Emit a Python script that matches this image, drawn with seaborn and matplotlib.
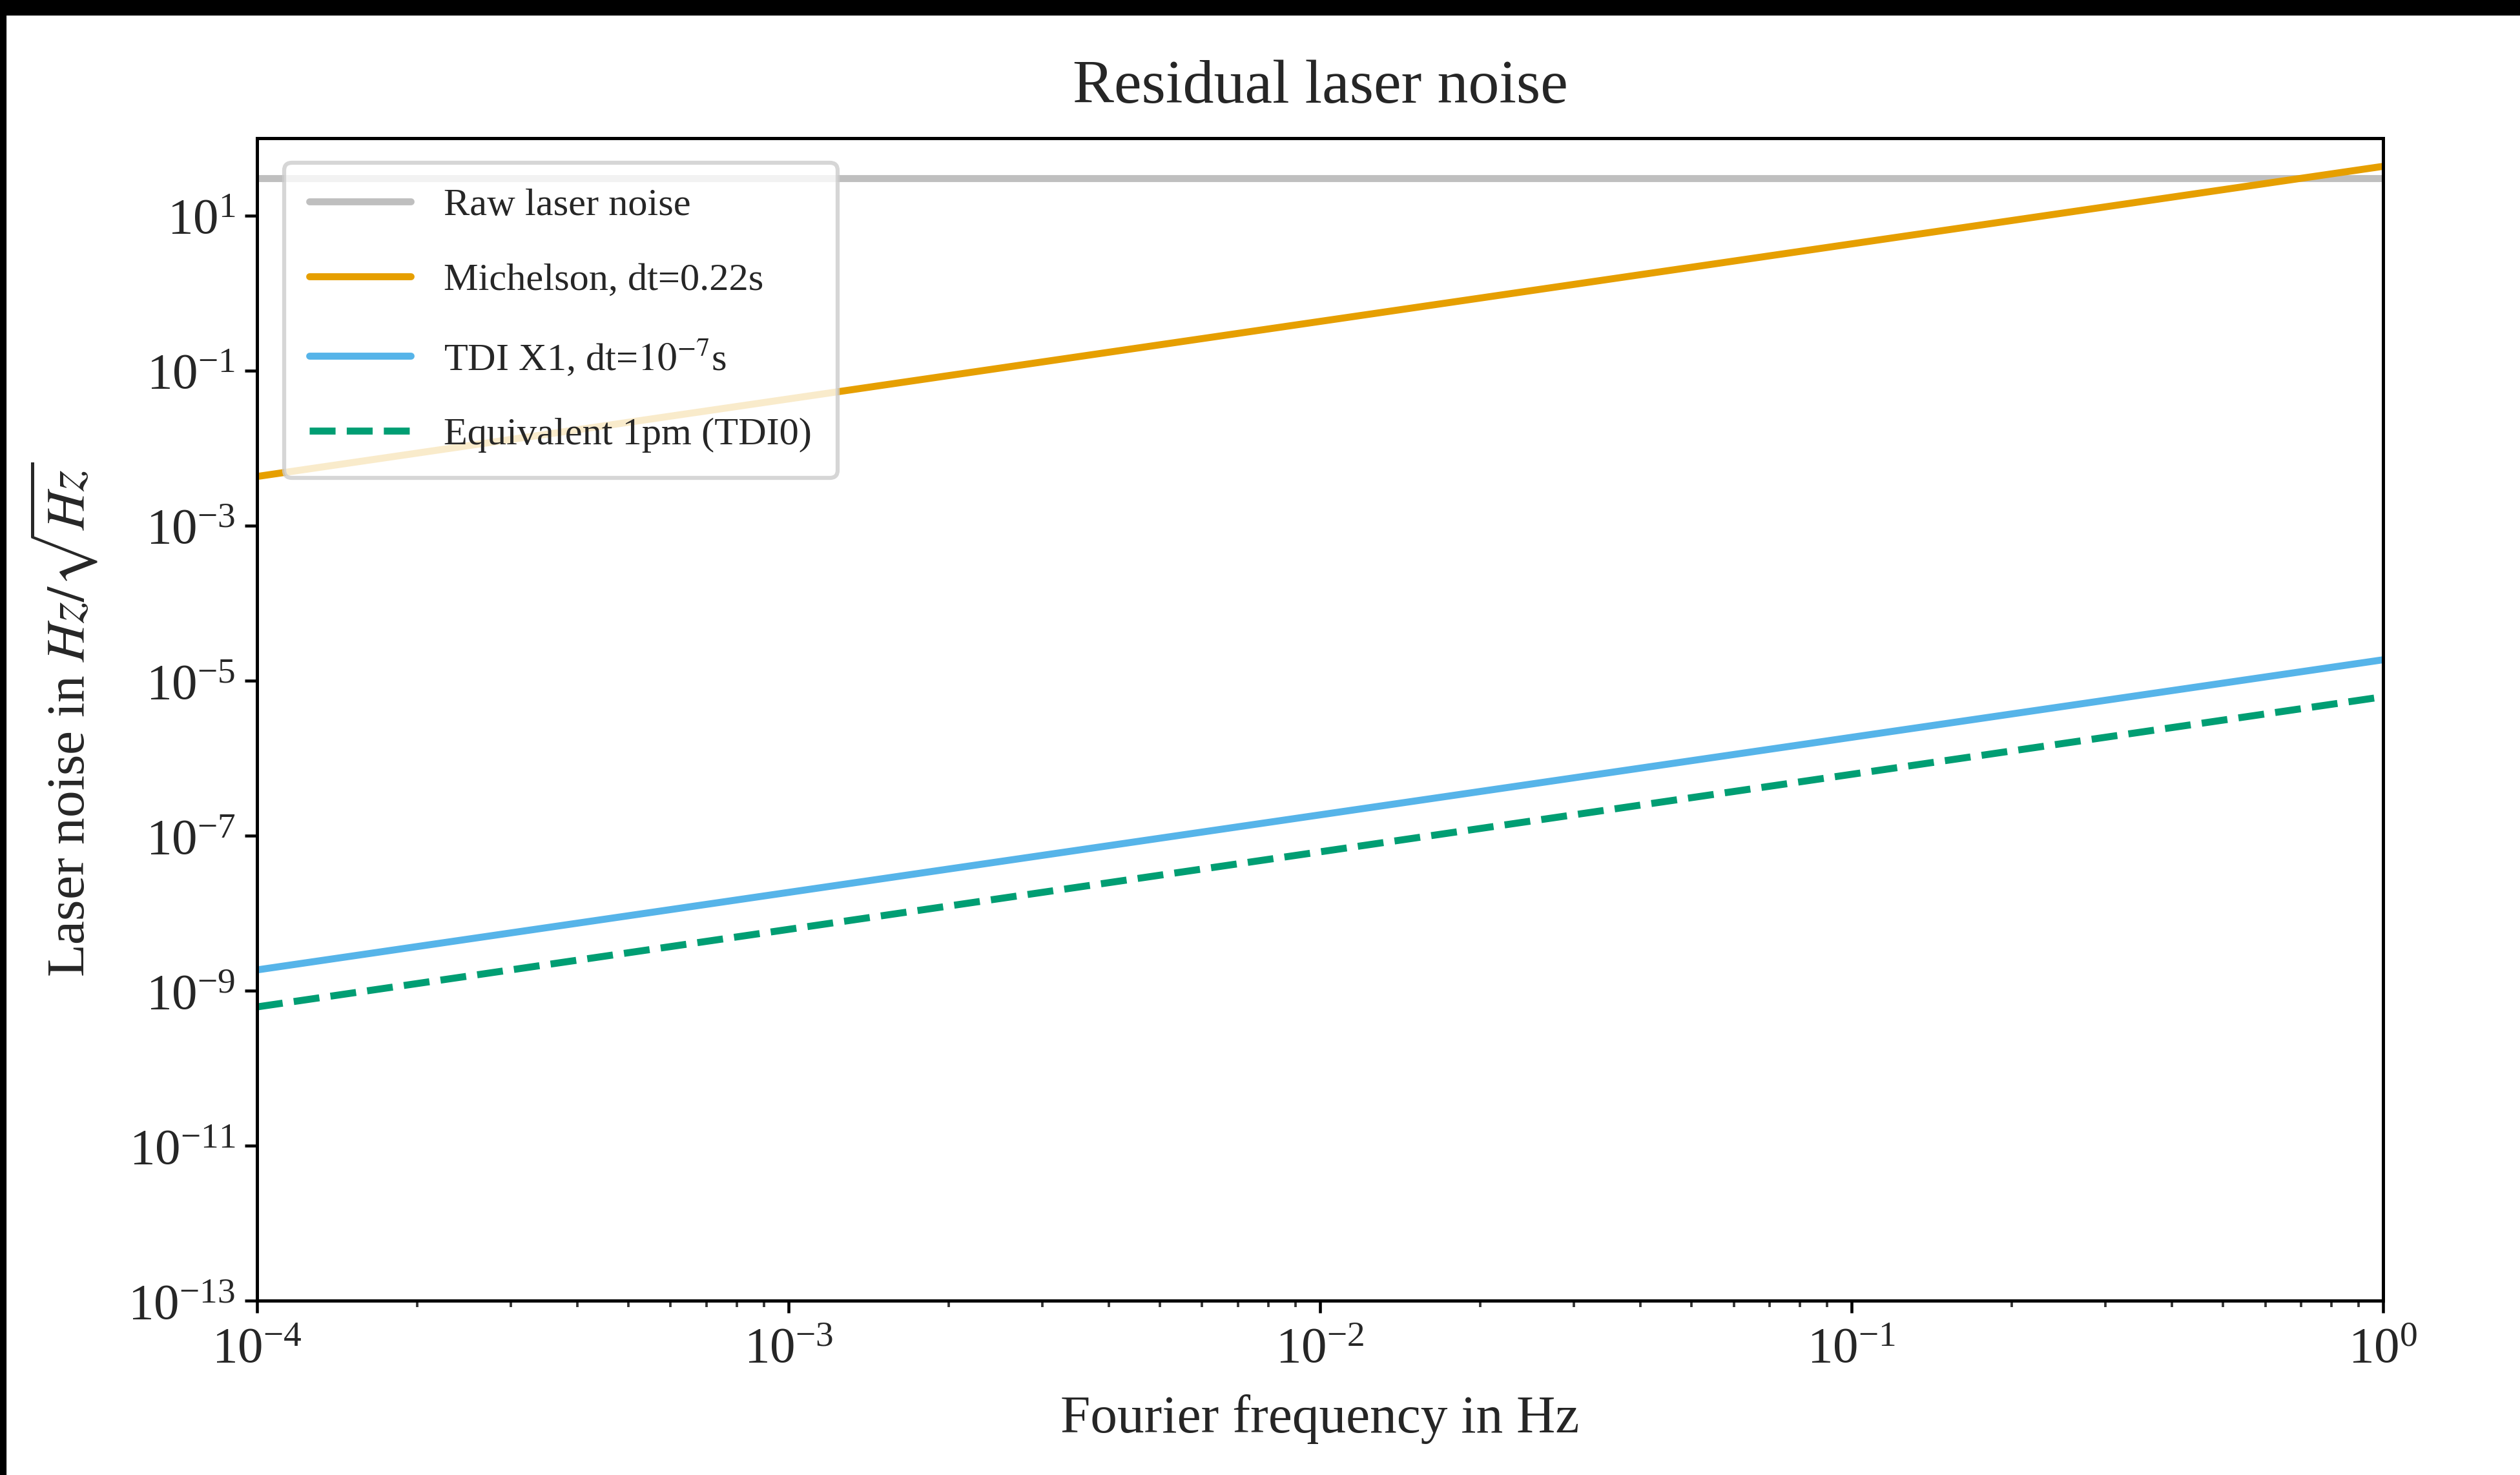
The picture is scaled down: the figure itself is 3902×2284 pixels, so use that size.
import numpy as np
import matplotlib
matplotlib.use('Agg')
import matplotlib.pyplot as plt
from matplotlib.patches import Rectangle
import pandas as pd
import seaborn as sns

# frequencies in Hz
freq = [1e-4, 1e-3, 1e-2, 1e-1, 1e0]

# values, Hz/sqrt(Hz)
raw_noise = [30, 30, 30, 30, 30]
michelson = [4.3e-3, 4.3e-2, 4.3e-1, 4.3, 43]
tdi_x1 = [1.86e-9, 1.86e-8, 1.86e-7, 1.86e-6, 1.86e-5]
equiv_1pm = [6.2e-10, 6.2e-9, 6.2e-8, 6.2e-7, 6.2e-6]

labels = ['Raw laser noise', 'Michelson, dt=0.22s',
          'TDI X1, dt=$10^{-7}$s', 'Equivalent 1pm (TDI0)']
colors = ['#bfbfbf', '#E69F00', '#56B4E9', '#009E73']

df = pd.DataFrame({'f': freq * 4,
                   'val': raw_noise + michelson + tdi_x1 + equiv_1pm,
                   'series': sum([[l] * len(freq) for l in labels], [])})

sns.set_theme(style='ticks')
plt.rcParams['font.family'] = ['Liberation Serif', 'DejaVu Serif']
plt.rcParams['mathtext.fontset'] = 'stix'

fig = plt.figure(figsize=(3902 / 300, 2284 / 300), dpi=300)
ax = fig.add_axes([0.102, 0.118, 0.8437, 0.7885])

for lab, col in zip(labels, colors):
    sub = df[df['series'] == lab]
    ls = '--' if 'Equivalent' in lab else '-'
    sns.lineplot(data=sub, x='f', y='val', ax=ax, color=col, linewidth=2.6,
                 linestyle=ls, label=lab)

ax.set_xscale('log')
ax.set_yscale('log')
ax.set_xlim(1e-4, 1e0)
ax.set_ylim(1e-13, 1e2)
ax.set_yticks([10.0 ** e for e in range(-13, 2, 2)])
ax.yaxis.set_minor_locator(matplotlib.ticker.NullLocator())
ax.tick_params(axis='both', which='major', labelsize=19, length=4.5, width=1.1, color='black')
ax.tick_params(axis='x', which='major', pad=5)
ax.tick_params(axis='x', which='minor', length=2.5, width=0.9, color='#333333')
for s in ax.spines.values():
    s.set_linewidth(1.2)
    s.set_color('black')

ax.set_xlabel('Fourier frequency in Hz', fontsize=20, labelpad=8)
ax.set_ylabel(r'Laser noise in $Hz/\sqrt{Hz}$', fontsize=20, labelpad=11)
ax.set_title('Residual laser noise', fontsize=23, pad=13)

leg = ax.legend(loc='upper left', fontsize=14.5, handlelength=2.6, labelspacing=1.0,
                handletextpad=0.85, frameon=True, fancybox=True, framealpha=0.8,
                borderpad=0.65, bbox_to_anchor=(0.0035, 0.9955))
leg.get_frame().set_edgecolor('#cccccc')
leg.get_frame().set_linewidth(1.5)

# dark screenshot edge on top and left
fig.add_artist(Rectangle((0, 1 - 22 / 2284), 1, 22 / 2284, transform=fig.transFigure,
                         color='black', zorder=10))
fig.add_artist(Rectangle((0, 0), 8 / 3902, 1, transform=fig.transFigure,
                         color='black', zorder=10))

fig.savefig('out.png', dpi=300)
